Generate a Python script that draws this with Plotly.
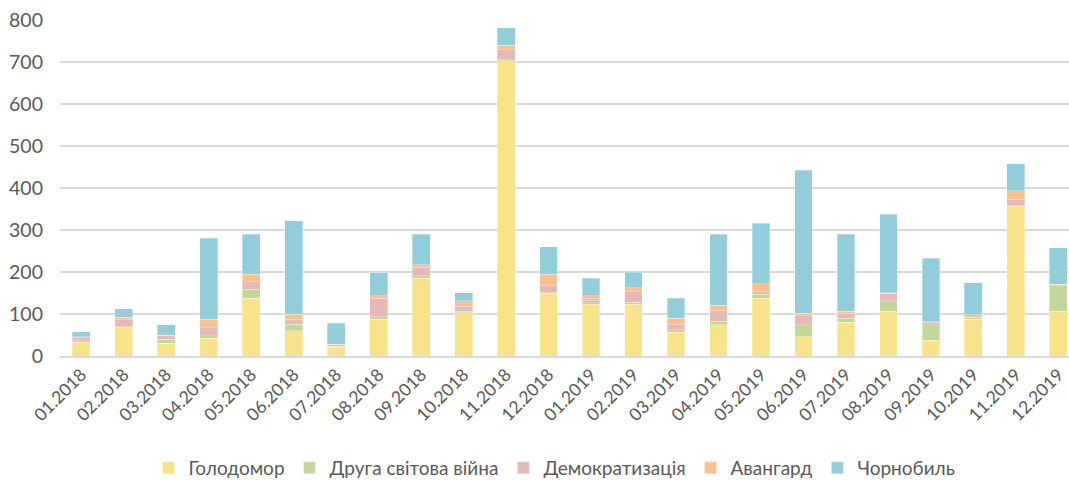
import plotly.graph_objects as go

months = ["01.2018", "02.2018", "03.2018", "04.2018", "05.2018", "06.2018",
          "07.2018", "08.2018", "09.2018", "10.2018", "11.2018", "12.2018",
          "01.2019", "02.2019", "03.2019", "04.2019", "05.2019", "06.2019",
          "07.2019", "08.2019", "09.2019", "10.2019", "11.2019", "12.2019"]

holodomor = [33, 68, 30, 42, 137, 60, 21, 87, 185, 103, 703, 150,
             123, 123, 56, 74, 137, 46, 80, 106, 38, 87, 357, 106]
druha = [3, 2, 10, 6, 22, 16, 2, 7, 6, 3, 2, 1,
         8, 5, 6, 9, 10, 28, 10, 25, 36, 4, 1, 61]
demokr = [7, 16, 8, 19, 18, 11, 4, 43, 20, 13, 24, 16,
          6, 25, 12, 25, 6, 22, 12, 18, 6, 1, 15, 3]
avangard = [3, 6, 2, 20, 18, 13, 1, 7, 6, 12, 11, 28,
            7, 10, 16, 13, 19, 6, 4, 2, 2, 6, 21, 1]
chornobyl = [12, 20, 24, 193, 95, 222, 50, 54, 73, 20, 42, 65,
             41, 37, 47, 169, 144, 340, 184, 186, 151, 77, 64, 87]

series = [
    ("Голодомор", holodomor, "#F9E38A"),
    ("Друга світова війна", druha, "#C4D79B"),
    ("Демократизація", demokr, "#E6B8B7"),
    ("Авангард", avangard, "#FAC08F"),
    ("Чорнобиль", chornobyl, "#92CDDC"),
]

fig = go.Figure()
for name, vals, color in series:
    fig.add_trace(go.Bar(
        x=months, y=vals, name=name,
        marker=dict(color=color, line=dict(color="rgba(255,255,255,0.6)", width=0.5)),
    ))

font_family = "Lato, Open Sans, sans-serif"

fig.update_layout(
    barmode="stack",
    bargap=0.58,
    width=1069, height=481,
    margin=dict(l=60, r=0, t=20, b=125, autoexpand=False),
    plot_bgcolor="white", paper_bgcolor="white",
    font=dict(family=font_family, color="#595959", size=18),
    xaxis=dict(
        tickangle=-45, tickfont=dict(size=17.5, color="#595959"),
        range=[-0.5, 23.25], showgrid=False, ticks="",
        showline=True, linecolor="#D9D9D9", linewidth=1.5,
        automargin=False,
    ),
    yaxis=dict(
        range=[0, 800], dtick=100, showgrid=True, gridcolor="#D9D9D9", gridwidth=1.5,
        tickfont=dict(size=19.5, color="#595959"), zeroline=False, ticks="",
        ticklabelstandoff=16, automargin=False,
    ),
    legend=dict(
        orientation="h", x=0.49, xanchor="center",
        yref="container", y=1 - 468 / 481, yanchor="middle",
        font=dict(size=19, color="#595959"), traceorder="normal",
        itemwidth=30,
    ),
)

fig.write_html(
    "out.html",
    config={"displayModeBar": False},
    post_script="document.body.style.margin='0';document.body.style.overflow='hidden';",
)
